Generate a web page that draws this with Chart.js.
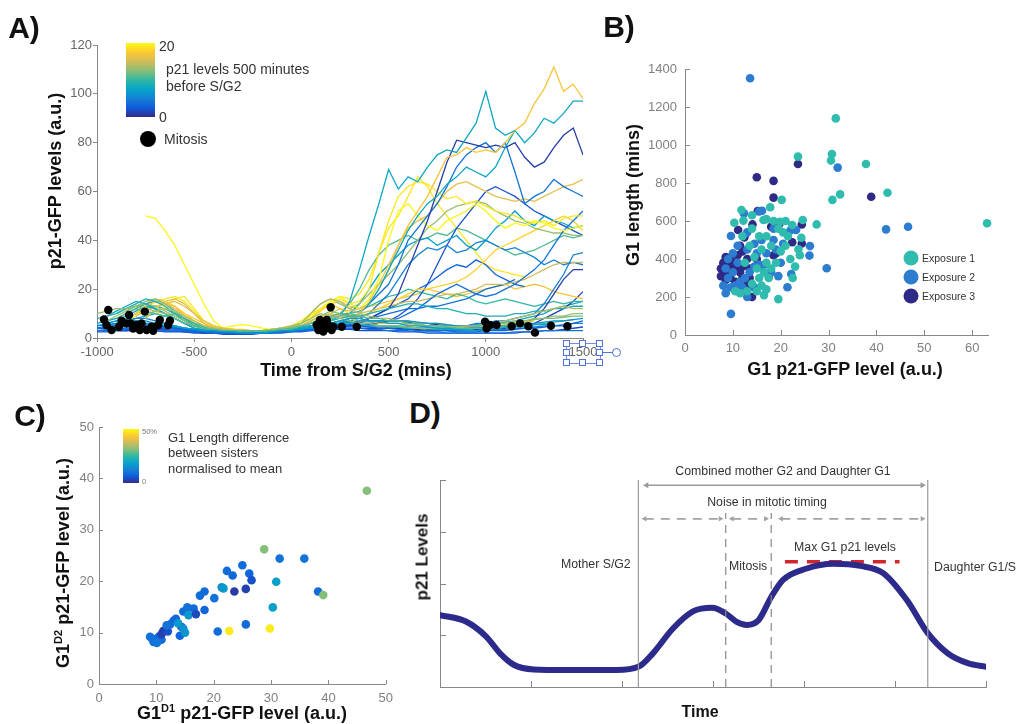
<!DOCTYPE html>
<html lang="en">
<head>
<meta charset="UTF-8">
<title>p21 dynamics around S/G2</title>
<script src="https://cdn.jsdelivr.net/npm/chart.js"></script>
<style>
  html, body { margin: 0; padding: 0; background: #fff; }
  body {
    width: 1018px; height: 724px; position: relative; overflow: hidden;
    font-family: 'Liberation Sans', Arial, sans-serif; color: #333;
  }
  canvas { position: absolute; }
  .lbl { position: absolute; white-space: nowrap; line-height: 1; }
  .c { transform: translate(-50%, -50%); }
  .v { transform: translate(-50%, -50%) rotate(-90deg); }
  .l { transform: translateY(-50%); }
  .panel { font-weight: bold; font-size: 30px; color: #111; }
  .title { font-weight: bold; font-size: 18px; color: #111; }
  .note { font-size: 13px; color: #333; }
  .dnote { font-size: 12.3px; color: #333; }
  .bar { position: absolute; }
  .dot { position: absolute; border-radius: 50%; transform: translate(-50%, -50%); }
  sup { font-size: 11px; vertical-align: 7px; line-height: 0; }
  .hnd { position: absolute; width: 5px; height: 5px; border: 1px solid #4f74dc; background: #fff; }
</style>
</head>
<body>

<canvas id="chartA" width="620" height="390" style="left:0;top:0"></canvas>
<canvas id="chartB" width="418" height="390" style="left:600px;top:0"></canvas>
<canvas id="chartC" width="400" height="334" style="left:0;top:390px"></canvas>
<canvas id="chartD" width="618" height="284" style="left:400px;top:440px"></canvas>

<!-- panel A labels -->
<div class="lbl panel c" style="left:24px;top:28px">A)</div>
<div class="lbl title v" style="left:55px;top:181px">p21-GFP levels (a.u.)</div>
<div class="lbl title c" style="left:356px;top:370px">Time from S/G2 (mins)</div>
<div id="barA" class="bar" style="left:126px;top:43px;width:29px;height:74px"></div>
<div class="lbl l" style="left:159px;top:46px;font-size:14px">20</div>
<div class="lbl l" style="left:159px;top:117px;font-size:14px">0</div>
<div class="lbl l" style="left:166px;top:69px;font-size:14px">p21 levels 500 minutes</div>
<div class="lbl l" style="left:166px;top:86px;font-size:14px">before S/G2</div>
<div class="dot" style="left:148px;top:139px;width:16px;height:16px;background:#000"></div>
<div class="lbl l" style="left:164px;top:139px;font-size:14px">Mitosis</div>

<!-- selection handles around the last time tick -->
<div style="position:absolute;left:566px;top:343px;width:33px;height:19px;border:1px solid #6f8fe4"></div>
<div class="hnd" style="left:563px;top:340px"></div>
<div class="hnd" style="left:579px;top:340px"></div>
<div class="hnd" style="left:596px;top:340px"></div>
<div class="hnd" style="left:563px;top:349px"></div>
<div class="hnd" style="left:596px;top:349px"></div>
<div class="hnd" style="left:563px;top:359px"></div>
<div class="hnd" style="left:579px;top:359px"></div>
<div class="hnd" style="left:596px;top:359px"></div>
<div style="position:absolute;left:603px;top:352px;width:10px;height:1px;background:#4f74dc"></div>
<div style="position:absolute;left:612px;top:348px;width:7px;height:7px;border:1px solid #4f74dc;border-radius:50%"></div>

<!-- panel B labels -->
<div class="lbl panel c" style="left:619px;top:27px">B)</div>
<div class="lbl title v" style="left:633px;top:195px">G1 length (mins)</div>
<div class="lbl title c" style="left:845px;top:369px">G1 p21-GFP level (a.u.)</div>
<div id="legendB"></div>

<!-- panel C labels -->
<div class="lbl panel c" style="left:30px;top:416px">C)</div>
<div class="lbl title v" style="left:63px;top:563px">G1<sup>D2</sup> p21-GFP level (a.u.)</div>
<div class="lbl title c" style="left:242px;top:713px">G1<sup>D1</sup> p21-GFP level (a.u.)</div>
<div id="barC" class="bar" style="left:123px;top:429px;width:16px;height:54px"></div>
<div class="lbl l" style="left:142px;top:432px;font-size:7.5px;color:#777">50%</div>
<div class="lbl l" style="left:142px;top:482px;font-size:7.5px;color:#777">0</div>
<div class="lbl l note" style="left:168px;top:437px">G1 Length difference</div>
<div class="lbl l note" style="left:168px;top:452px">between sisters</div>
<div class="lbl l note" style="left:168px;top:468px">normalised to mean</div>

<!-- panel D labels -->
<div class="lbl panel c" style="left:425px;top:413px">D)</div>
<div class="lbl v" style="left:422px;top:557px;font-weight:bold;font-size:17px;color:#111">p21 Levels</div>
<div class="lbl c" style="left:700px;top:712px;font-weight:bold;font-size:16px;color:#111">Time</div>
<div class="lbl c dnote" style="left:783px;top:471px">Combined mother G2 and Daughter G1</div>
<div class="lbl c dnote" style="left:767px;top:502px">Noise in mitotic timing</div>
<div class="lbl l dnote" style="left:561px;top:564px">Mother S/G2</div>
<div class="lbl l dnote" style="left:729px;top:566px">Mitosis</div>
<div class="lbl c dnote" style="left:845px;top:547px">Max G1 p21 levels</div>
<div class="lbl l dnote" style="left:934px;top:567px">Daughter G1/S</div>

<script>
Chart.defaults.font.family = "'Liberation Sans', Arial, sans-serif";
Chart.defaults.animation = false;

// parula colour map, dark blue -> yellow
const PARULA = ['#352A87', '#0F5CDD', '#1481D6', '#06A4CA', '#2EB7A4', '#87BF77', '#D1BB59', '#FEC832', '#F9FB0E'];

// ---------- A: single-cell p21 traces aligned to S/G2 ----------
const A_STEP = 50; // minutes between samples

// traces that stay low after S/G2
const aLowStarts = [-950, -1000, -900, -850, -1000, -800, -950, -750, -1000, -700, -900, -650, -1000, -850];
const aLowShades = [7, 4, 11, 3, 13, 8, 6, 14, 2, 10, 9, 16, 5, 12];
const aLowTraces = [
  [6,7,8,7,6,6,5,5,4,3.5, 3,3,2.5,2.5,2,2,2,2.5,3,3, 3.5,4,5,6,7,8,8,7,7,6, 6,5,5,4.5,4,4,3.5,3,3,3.5],
  [3,3.5,4,4,3.5,3.5,3,3,3,3, 2.5,2.5,2,2,2,2,2,2,2,2.5, 2.5,3,3,3.5,4,4,4,4,3.5,3.5, 3,3,3,2.5,2.5,2.5,2,2,2,2, 2,2,2,2.5,2.5,2.5,3,3,3,3,3],
  [8,10,12,11,10,9,8,6,5, 4,3.5,3,3,3,3,3,3,3.5,4, 5,6,8,9,10,10,9,8,8,7, 7,6,6,5,5,4.5,4,4,4,4, 4,5,5,6],
  [4,4,5,5,4.5,4,3.5,3, 3,2.5,2.5,2,2,2,2,2.5,2.5,3, 3,3.5,4,4.5,5,5,5,4.5,4,4, 3.5,3.5,3,3,3,3,2.5,2.5,2.5,3, 3,3,3.5,4,4,4.5,5,5,6,7],
  [10,11,12,12,13,12,11,10,9,7, 5,4,3.5,3,3,3,3,3,3.5,4, 5,6,8,10,9,8,7,6,6,5, 5,5,4.5,4,4,4,4,4.5,5,5, 5,6,6,7,7,8,8,9,9,10,10],
  [5,6,6,6,5,4,3.5, 3,2.5,2.5,2.5,2,2,2,2.5,3,3, 4,5,6,6,7,7,6,6,5,5, 5,4.5,4,4,4,3.5,3.5,3.5,4,4, 4,4.5,5,5,5.5,5.5,6],
  [4,5,6,7,7,6,5,4.5,4,3.5, 3,3,2.5,2,2,2,2,2,2.5,3, 3.5,4,4.5,5,6,6.5,7,7,7,7, 7,7,6.5,6,6,5.5,5,5,5,5, 5,5,5.5,6,6,6.5,7,7,7.5,8],
  [9,11,12,11,9,7, 5,4,3.5,3,3,3,3,3,3.5,4, 6,10,14,16,15,12,10,9,8,8, 7,7,6,6,6,5.5,5,5,5,5.5, 6,7,8,9,10,11,12,13,12,12],
  [2.5,2.5,3,3,3,3,3,2.5,2.5,2.5, 2,2,2,1.5,1.5,1.5,1.5,2,2,2, 2.5,2.5,3,3,3.5,3.5,3.5,3,3,3, 3,2.5,2.5,2.5,2,2,2,2,2,2, 2,2,2,2,2.5,2.5,3,3,3.5,4,4.5],
  [7,9,10,8,6, 4.5,3.5,3,3,2.5,2.5,2.5,3,3,3.5, 4,5,5.5,6,6,6,5.5,5,5,4.5, 4.5,4,4,4,3.5,3.5,3.5,3.5,4,4, 4,4.5,4.5,5,5.5,6,6.5,7,7.5],
  [10,12,14,16,15,13,10,7,5, 4,3,3,2.5,2.5,2.5,2.5,3,3,3.5, 4,5,6,7,8,9,9,10,11,12, 13,14,14,13,12,12,11,10,10,9, 9,9,10,10,11,11,12,12,13,13],
  [14,15,13,10, 7,5,4,3.5,3,3,3,3,3.5,4, 5,7,9,10,9,8,7,7,6,6, 6,5.5,5,5,5,4.5,4.5,4.5,5,5, 5,5.5,6,6.5,7],
  [5,5.5,6,6,5.5,5,5,4.5,4,4, 3.5,3,3,2.5,2.5,2.5,2.5,2.5,3,3, 3.5,4,4,5,5.5,6,6,5.5,5,5, 4.5,4.5,4,4,3.5,3.5,3,3,3,3, 3,3.5,3.5,4,4,4.5,5,5,5.5,6,6],
  [11,13,15,16,14,11,8,6, 4,3.5,3,3,3,3,3,3,3.5,4, 5,7,9,11,10,9,8,7,7,6, 6,6,5.5,5,5,5,5,5,5,5.5, 6,6,6.5,7,7.5,8,8,8.5,9,9]
];

// traces that rise in daughter G1
const aRiseStarts = [-950, -900, -1000, -850, -1000, -750, -700, -750, -1000, -950, -850, -1000, -800,
                     -900, -950, -1000, -900, -1000, -950, -1000, -800, -900, -850, -1000, -950];
const aRiseShades = [8, 17, 8, 1, 4, 16, 19, 20, 4, 13, 18, 5, 15, 1, 5, 7, 2, 3, 4, 10, 17, 11, 19, 1, 8];
const aRiseTraces = [
  [9,11,13,15,14,12,10,8,6,5, 4,3.5,3,3,2.5,2.5,3,3,3.5,4, 4.5,5,6,7,9,15,28,42,55,69, 61,66,64,70,75,77,76,82,88,101, 86,83,85],
  [6,8,10,13,15,14,13,9,6, 4,3,3,3.5,3,3,2.5,3,3.5,4, 5,7,9,10,9,8,10,15,22,30, 38,46,52,58,66,74,75,78,76,77, 76,80,85,88,96,102,111,101,104,98],
  [5,6,7,9,11,13,12,10,8,6, 4,3.5,3,3,2.5,2.5,2.5,3,3,3.5, 4,4.5,5,5.5,6,7,8,10,14,20, 28,36,44,50,55,58,63,66,70,68, 66,70,78,85,80,84,90,88,92,97,97],
  [3,3.5,3,4,3.5,3,3,2.5, 2,2,2,2,2,2,2,2.5,2.5,3, 3,3.5,4,4,4.5,5,6,8,10,12, 18,28,38,48,60,72,81,80,79,78, 79,78,80,74,70,72,78,83,86,75],
  [4,5,5,6,5,4.5,4,4,3.5,3, 3,2.5,2.5,2,2,2,2,2.5,2.5,3, 3,3.5,4,5,5,6,8,10,14,18, 22,30,40,45,50,55,62,70,75,78, 80,76,80,68,55,58,60,65,62,60,58],
  [8,12,15,16,14,10, 6,4,3.5,3,3,3,3,3,3.5,4, 5,6,8,10,12,11,12,14,20,28, 38,45,48,50,55,60,63,64,62,60, 58,57,56,57,56,58,60,62,63,65],
  [10,13,16,17,12, 7,5,4,3.5,3,3,3,3.5,4,5, 7,10,12,14,16,14,15,20,35,48, 58,62,64,63,60,57,58,55,56,54, 52,51,50,48,47,48,46,49,50,50],
  [50,49,44,38,30,22, 14,7,4,5,5.5,5,4,3.5,3.5,4, 6,9,12,15,17,14,12,16,24,40, 52,55,50,46,44,48,50,52,55,52, 48,45,47,46,48,47,45,44,45,46],
  [3,3,3.5,3.5,3,3,3,3,3,2.5, 2.5,2,2,2,2,2,2,2,2.5,2.5, 3,3,3.5,4,4,4.5,5,5,5.5,6, 7,8,10,12,15,18,20,22,20,18, 17,18,20,22,25,28,32,38,44,48,52],
  [7,9,11,13,14,13,11,9,7,5, 4,3.5,3,3,3,3,3,3.5,4,4.5, 6,10,14,16,14,12,14,18,22,26, 30,35,40,45,48,52,54,55,56,55, 52,50,48,47,45,44,43,43,42,42],
  [8,10,12,13,14,13,10,7, 5,4,3.5,3,3,3,3,3.5,4,5, 6,8,11,14,12,10,9,10,12,14, 16,18,20,20,21,22,23,25,28,32, 36,38,40,42,44,46,48,50,48,44],
  [4,4.5,5,5.5,6,5.5,5,4.5,4,3.5, 3,3,2.5,2.5,2,2,2,2,2.5,2.5, 3,3,3.5,4,4.5,5,5,5,5,5, 5,4.5,4,4,4,4.5,5,5,5,6, 6,7,7,8,9,10,14,20,26,34,35],
  [9,11,13,14,12,9,6, 4,3.5,3,3,3,3,3,3.5,4,4.5, 5,6,7,8,9,9,10,11,12,13, 14,15,15,16,17,18,18,19,20,22, 22,22,23,24,26,28,30,31,31,31],
  [3,3,3.5,3,3,3,3,2.5,2.5, 2,2,2,2,2,2,2,2.5,3,3, 3,3.5,4,4,4,4,4,4,4,4, 4,3.5,3.5,3,3,3,3,3,3.5,3.5, 4,4,5,6,8,12,18,24,28,28],
  [5,6,7,8,8,7,6,5,4,3.5, 3,2.5,2.5,2.5,2,2,2,2.5,3,3, 3.5,4,5,6,6,7,8,10,14,18, 24,30,34,37,36,38,35,36,39,40, 38,36,37,35,33,30,32,30,31,30],
  [6,7,8,10,12,14,15,14,11,8, 5,4,3,3,2.5,2.5,2.5,3,3,3.5, 4,5,6,7,8,9,10,14,20,26, 30,34,38,40,41,38,40,42,38,36, 40,45,48,52,48,46,50,48,47,45,46],
  [3,3,3,3.5,3.5,3,3,3,2.5, 2.5,2,2,2,2,2,2,2.5,2.5,3, 3,3.5,4,4,4.5,5,5,5.5,6,7, 9,12,16,22,30,38,45,50,55,60, 62,60,58,55,52,50,48,46,44,42],
  [3,3,3.5,4,4,3.5,3.5,3,3,3, 2.5,2.5,2,2,2,2,2,2,2.5,2.5, 3,3,3.5,4,4,4.5,5,6,8,10, 12,14,16,20,22,25,28,30,29,32, 30,26,24,22,21],
  [4,5,6,6,5,5,4,4,3.5,3, 2.5,2.5,2,2,2,2,2.5,2.5,3,3, 3.5,4,4.5,5,5,6,7,8,9,10, 11,12,12,13,13,14,15,16,18,20, 21,22,24],
  [8,9,10,12,13,14,13,12,10,8, 6,5,4,3.5,3,3,3,3,3.5,4, 4.5,5,6,7,8,9,10,11,13,15, 17,18,20,19,18,17,16,18,17,15, 14,15,16,15,14,13,14,15,14,15,15],
  [12,14,16,15,13,10,8, 6,4.5,4,3.5,3.5,3,3,3.5,4,5, 6,8,12,14,15,13,12,13,14,15, 16,17,18,20,19,18,17,18,19,20, 21,22,20,21,22,21,19,18,17,16],
  [6,8,10,12,13,12,10,8,6, 4,3.5,3,3,3,3,3,3,3.5,4, 5,6,7,8,10,14,20,28,34,38, 40,42,40,41,43,42,45,44,42,40, 38,36,34,35,36,38,40,42,41,42],
  [7,9,12,15,16,17,15,11, 7,5,4,3.5,3,3,3,3,3.5,4.5, 6,9,12,15,17,16,18,24,35,45, 50,58,66,62,55,50,45,40,35,30, 28,27,26,25],
  [4,4,4.5,5,5,5,4.5,4,4,3.5, 3,3,2.5,2.5,2.5,2,2,2,2.5,3, 3,3.5,4,4,4.5,5,5.5,6,6,6.5, 7,7,6.5,6,6,5.5,5,5,4.5,4.5, 4,4,4.5,5,5.5,6,8,10,12,15,19],
  [5,6,7,8,9,10,9,8,6,4, 3,3,2.5,2.5,2.5,2.5,2.5,3,3,3.5, 4,4,5,6,6,6.5,7,7,7,7, 7,6.5,6,6,5.5,5,5,5,5.5,6, 6,6.5,7,8,9,10,12,13,14,15]
];

// mitosis events (time, level)
const mitosisTime = [-942,-964,-951,-925,-887,-874,-835,-828,-814,-797,-780,-754,-771,-745,-719,-711,-685,-677,-634,-625,-849,
                     202,130,139,156,173,182,190,207,216,164,147,259,336,
                     996,1004,1021,1055,1133,1176,1219,1253,1335,1420];
const mitosisLevel = [11.5,7.6,5.3,3.3,4.6,7.1,9.4,6.0,3.9,5.3,3.3,10.8,6.0,3.3,4.6,3.0,5.3,7.4,5.3,7.1,6.0,
                      12.6,5.3,3.3,6.0,3.9,7.4,5.3,3.3,4.6,2.6,7.4,4.6,4.6,
                      6.7,3.9,5.3,5.3,4.8,6.0,4.8,2.2,5.0,4.8];

// ---------- B: G1 length vs G1 p21 ----------
const bNames = ['Exposure 1', 'Exposure 2', 'Exposure 3'];
const bColors = ['#2fbcae', '#2c7cd0', '#2e2a86'];
const b1X = [63.1,42.3,37.8,31.5,30.7,30.5,30.8,32.4,23.6,27.5,20.2,19.5,23.0,24.6,24.3,23.7,22.4,19.8,17.8,16.4,11.8,12.2,10.3,14.0,15.5,
             17.0,18.5,19.5,20.5,21.5,21.0,20.0,18.0,16.0,13.5,12.0,14.5,17.0,19.0,22.0,16.5,15.5,16.0,17.0,16.5,15.0,14.0,13.0,11.5,10.5,
             17.5,18.0,15.0,12.5,22.5,24.0,21.0,17.0,14.0];
const b1Y = [588,749,900,1140,953,918,711,740,939,582,711,189,360,605,512,451,579,596,672,605,658,602,591,560,520,
             520,600,560,540,520,470,440,470,450,470,520,410,380,380,400,330,300,260,240,210,230,270,230,220,230,
             300,350,350,380,300,420,600,610,630];
const b2X = [13.6,31.9,42.0,46.6,29.6,9.6,26.1,26.0,22.2,21.4,23.2,16.1,12.3,9.6,15.5,14.5,16.0,18.5,19.0,17.0,15.0,13.0,11.0,10.0,9.0,
             8.5,9.0,8.0,8.5,9.5,10.5,11.5,12.5,13.5,14.5,15.5,16.5,18.0,19.5,20.0,12.0,13.0,14.5,16.0,11.0,10.0,18.5,20.5,22.0,13.0];
const b2Y = [1351,881,556,570,351,111,468,418,321,251,553,654,640,521,650,480,500,500,450,430,430,450,470,430,400,
             350,300,260,220,250,260,280,300,330,360,370,370,330,310,380,250,200,250,360,380,330,560,480,550,540];
const b3X = [23.6,15.0,18.5,18.5,38.9,22.4,24.4,24.4,19.7,15.2,14.1,11.1,12.4,19.0,18.0,19.0,18.5,17.5,15.0,14.0,13.0,12.5,12.0,11.5,
             11.0,10.0,9.5,8.5,8.0,7.5,7.5,8.5,9.0,9.5,10.5,11.0,12.0,13.0,13.5,12.0,10.0,8.5,11.5,13.5];
const b3Y = [900,830,811,723,728,488,482,582,584,653,582,553,514,580,570,430,420,310,400,200,250,270,300,330,
             360,380,400,410,380,350,310,330,360,300,280,420,440,400,350,360,340,290,470,300];

// ---------- C: sister G1 p21 levels ----------
const cD1 = [9.2,9.8,10.4,9.5,10.9,10.1,8.9,11.2,10.9,12.0,13.0,12.4,11.8,13.4,14.1,14.4,13.8,14.7,15.0,14.7,15.4,16.5,15.6,16.9,
             18.4,17.6,18.4,20.1,21.4,21.7,22.3,23.3,25.0,26.2,26.6,23.6,25.6,20.7,25.6,30.9,30.3,31.5,35.8,38.2,
             22.7,29.8,28.8,39.1,46.7];
const cD2 = [8.9,8.6,9.2,8.2,8.6,8.0,9.2,10.3,9.7,10.2,12.3,11.6,11.4,12.7,9.4,11.1,11.8,10.8,10.0,14.1,14.9,14.7,13.4,13.6,
             14.4,17.2,18.0,16.7,18.8,18.6,22.0,21.1,23.1,21.5,20.2,18.0,18.5,10.2,11.6,19.9,14.9,24.4,24.4,18.0,
             10.3,10.8,26.2,17.3,37.6];
const cDiff = [10,10,9,10,9,11,10,2,3,5,7,9,10,8,8,3,17,15,16,9,10,9,16,4,
               8,9,9,10,14,17,9,8,9,8,5,2,3,9,9,18,18,10,10,9,
               48,48,31,31,31];

// ---------- D: schematic ----------
const dCurveX = [0,0.29,0.51,0.66,0.81,1.03,1.39,1.94,2.18,2.34,2.56,2.78,2.99,3.14,3.26,3.37,3.50,3.64,3.77,4.03,4.32,4.62,4.87,5.13,5.36,5.58,5.80,6.0];
const dCurveY = [1.39,1.26,0.97,0.65,0.43,0.34,0.33,0.33,0.39,0.65,1.13,1.46,1.53,1.42,1.26,1.20,1.29,1.74,2.07,2.29,2.38,2.34,2.20,1.68,1.04,0.65,0.46,0.39];
const dMaxSpan = [3.79, 5.05];
const dMaxLevel = 2.42;
const dPhaseX = [2.18, 5.36];     // mother S/G2 and daughter G1/S
const dMitosisX = [3.14, 3.64];   // mitosis window
const dMitosisTop = 3.36;
const dSpanArrow = [2.27, 5.30];
const dSpanLevel = 3.90;
const dNoiseArrows = [[2.25, 3.08], [3.21, 3.58], [3.75, 5.30]];
const dNoiseLevel = 3.25;

// ---------- helpers ----------
function hexRgb(h) { return [1, 3, 5].map(i => parseInt(h.slice(i, i + 2), 16)); }
function parula(t) {
  t = Math.max(0, Math.min(1, t));
  const n = PARULA.length - 1;
  const i = Math.min(Math.floor(t * n), n - 1), f = t * n - i;
  const a = hexRgb(PARULA[i]), b = hexRgb(PARULA[i + 1]);
  return 'rgb(' + a.map((v, k) => Math.round(v + (b[k] - v) * f)).join(',') + ')';
}
const parulaGradient = 'linear-gradient(to top,' +
  PARULA.map((c, i) => c + ' ' + (i / (PARULA.length - 1) * 100).toFixed(1) + '%').join(',') + ')';
document.getElementById('barA').style.background = parulaGradient;
document.getElementById('barC').style.background = parulaGradient;

const xy = (xs, ys) => xs.map((x, i) => ({ x: x, y: ys[i] }));
const tickFont = { size: 13 };
const plain = v => String(v);

// MATLAB-style ticks pointing into the plot
const innerTicks = {
  id: 'innerTicks',
  afterDraw(chart, args, o) {
    const { ctx, chartArea: a, scales: { x, y } } = chart;
    ctx.save();
    ctx.strokeStyle = o.color;
    ctx.lineWidth = 1;
    ctx.beginPath();
    x.ticks.forEach(t => {
      const p = Math.round(x.getPixelForValue(t.value)) + 0.5;
      ctx.moveTo(p, a.bottom); ctx.lineTo(p, a.bottom - o.len);
    });
    y.ticks.forEach(t => {
      const p = Math.round(y.getPixelForValue(t.value)) + 0.5;
      ctx.moveTo(a.left, p); ctx.lineTo(a.left + o.len, p);
    });
    ctx.stroke();
    ctx.restore();
  }
};

const baseOpts = {
  responsive: false,
  animation: false,
  events: [],
  plugins: { legend: { display: false }, tooltip: { enabled: false } }
};
const noGrid = { display: false, drawTicks: false };

// ---------- chart A ----------
function traceSet(start, vals, shade) {
  return {
    data: vals.map((v, i) => ({ x: start + i * A_STEP, y: v })),
    borderColor: parula(shade / 20),
    borderWidth: 1.3,
    pointRadius: 0,
    tension: 0
  };
}
const aSets = [];
aLowTraces.forEach((v, i) => aSets.push(traceSet(aLowStarts[i], v, aLowShades[i])));
aRiseTraces.forEach((v, i) => aSets.push(traceSet(aRiseStarts[i], v, aRiseShades[i])));
aSets.push({
  type: 'scatter',
  order: -1,           // keep the mitosis marks above the traces
  data: xy(mitosisTime, mitosisLevel),
  backgroundColor: '#000',
  pointRadius: 4.2,
  borderWidth: 0
});

new Chart(document.getElementById('chartA'), {
  type: 'line',
  data: { datasets: aSets },
  options: Object.assign({}, baseOpts, {
    layout: { padding: { top: 45, right: 37, left: 0, bottom: 0 } },
    scales: {
      x: {
        type: 'linear', min: -1000, max: 1500,
        afterFit: s => { s.height = 52; },
        ticks: { stepSize: 500, color: '#666', font: tickFont, padding: 3, maxRotation: 0, callback: plain },
        grid: { drawOnChartArea: false, tickLength: 4, color: '#888' },
        border: { color: '#888' }
      },
      y: {
        min: 0, max: 120,
        afterFit: s => { s.width = 97; },
        ticks: { stepSize: 20, color: '#666', font: tickFont, padding: 1, callback: plain },
        grid: { drawOnChartArea: false, tickLength: 4, color: '#888' },
        border: { color: '#888' }
      }
    }
  })
});

// ---------- chart B ----------
const bXs = [b1X, b2X, b3X], bYs = [b1Y, b2Y, b3Y];
new Chart(document.getElementById('chartB'), {
  type: 'scatter',
  data: {
    datasets: bNames.map((name, i) => ({
      label: name,
      data: xy(bXs[i], bYs[i]),
      backgroundColor: bColors[i],
      borderWidth: 0,
      pointRadius: 4.3,
      clip: false
    }))
  },
  options: Object.assign({}, baseOpts, {
    layout: { padding: { top: 69, right: 30, left: 0, bottom: 0 } },
    scales: {
      x: {
        type: 'linear', min: 0, max: 63.3,
        afterFit: s => { s.height = 55; },
        ticks: { stepSize: 10, includeBounds: false, color: '#808080', font: tickFont, padding: 6, maxRotation: 0, callback: plain },
        grid: noGrid,
        border: { color: '#888' }
      },
      y: {
        min: 0, max: 1400,
        afterFit: s => { s.width = 85; },
        ticks: { stepSize: 200, color: '#808080', font: tickFont, padding: 8, callback: plain },
        grid: noGrid,
        border: { color: '#888' }
      }
    },
    plugins: Object.assign({}, baseOpts.plugins, { innerTicks: { len: 5, color: '#888' } })
  }),
  plugins: [innerTicks]
});

// legend for B, built from the same names and colours
const legendB = document.getElementById('legendB');
bNames.forEach((name, i) => {
  const cy = 258 + i * 19;
  legendB.insertAdjacentHTML('beforeend',
    `<div class="dot" style="left:911px;top:${cy}px;width:15px;height:15px;background:${bColors[i]}"></div>` +
    `<div class="lbl l" style="left:922px;top:${cy}px;font-size:10.5px;color:#333">${name}</div>`);
});

// ---------- chart C ----------
new Chart(document.getElementById('chartC'), {
  type: 'scatter',
  data: {
    datasets: [{
      data: xy(cD1, cD2),
      backgroundColor: cDiff.map(d => parula(d / 50)),
      borderWidth: 0,
      pointRadius: 4.3,
      clip: false
    }]
  },
  options: Object.assign({}, baseOpts, {
    layout: { padding: { top: 37, right: 14, left: 0, bottom: 0 } },
    scales: {
      x: {
        type: 'linear', min: 0, max: 50,
        afterFit: s => { s.height = 40; },
        ticks: { stepSize: 10, color: '#808080', font: tickFont, padding: 7, maxRotation: 0, callback: plain },
        grid: noGrid,
        border: { color: '#888' }
      },
      y: {
        min: 0, max: 50,
        afterFit: s => { s.width = 99; },
        ticks: { stepSize: 10, color: '#808080', font: tickFont, padding: 5, callback: plain },
        grid: noGrid,
        border: { color: '#888' }
      }
    },
    plugins: Object.assign({}, baseOpts.plugins, { innerTicks: { len: 4, color: '#888' } })
  }),
  plugins: [innerTicks]
});

// ---------- chart D ----------
const grey = '#9a9a9a';
const dSets = [];
dPhaseX.forEach(x => dSets.push({
  data: [{ x: x, y: 0 }, { x: x, y: 4 }], borderColor: grey, borderWidth: 1.2, pointRadius: 0
}));
dMitosisX.forEach(x => dSets.push({
  data: [{ x: x, y: 0 }, { x: x, y: dMitosisTop }], borderColor: '#8a8a8a', borderWidth: 1.2,
  borderDash: [8, 6], pointRadius: 0
}));
dSets.push({
  data: [{ x: dSpanArrow[0], y: dSpanLevel }, { x: dSpanArrow[1], y: dSpanLevel }],
  borderColor: grey, borderWidth: 1.6,
  pointStyle: 'triangle', pointRadius: 3.5, pointRotation: [-90, 90],
  pointBackgroundColor: grey, pointBorderWidth: 0
});
dNoiseArrows.forEach(seg => dSets.push({
  data: [{ x: seg[0], y: dNoiseLevel }, { x: seg[1], y: dNoiseLevel }],
  borderColor: '#a3a3a3', borderWidth: 1.8, borderDash: [9, 7],
  pointStyle: 'triangle', pointRadius: 3.2, pointRotation: [-90, 90],
  pointBackgroundColor: '#a3a3a3', pointBorderWidth: 0
}));
dSets.push({
  data: xy(dCurveX, dCurveY),
  borderColor: '#2c2a8a', borderWidth: 6, borderCapStyle: 'round',
  cubicInterpolationMode: 'monotone', pointRadius: 0
});
dSets.push({
  data: [{ x: dMaxSpan[0], y: dMaxLevel }, { x: dMaxSpan[1], y: dMaxLevel }],
  borderColor: '#d3262c', borderWidth: 3.5, borderDash: [13, 9], pointRadius: 0
});

new Chart(document.getElementById('chartD'), {
  type: 'line',
  data: { datasets: dSets },
  options: Object.assign({}, baseOpts, {
    layout: { padding: { top: 40, right: 32, left: 0, bottom: 0 } },
    scales: {
      x: {
        type: 'linear', min: 0, max: 6,
        afterFit: s => { s.height = 37; },
        ticks: { stepSize: 1, display: false },
        grid: noGrid,
        border: { color: '#888' }
      },
      y: {
        min: 0, max: 4,
        afterFit: s => { s.width = 40; },
        ticks: { stepSize: 1, display: false },
        grid: noGrid,
        border: { color: '#888' }
      }
    },
    plugins: Object.assign({}, baseOpts.plugins, { innerTicks: { len: 6, color: '#888' } })
  }),
  plugins: [innerTicks]
});
</script>
</body>
</html>
